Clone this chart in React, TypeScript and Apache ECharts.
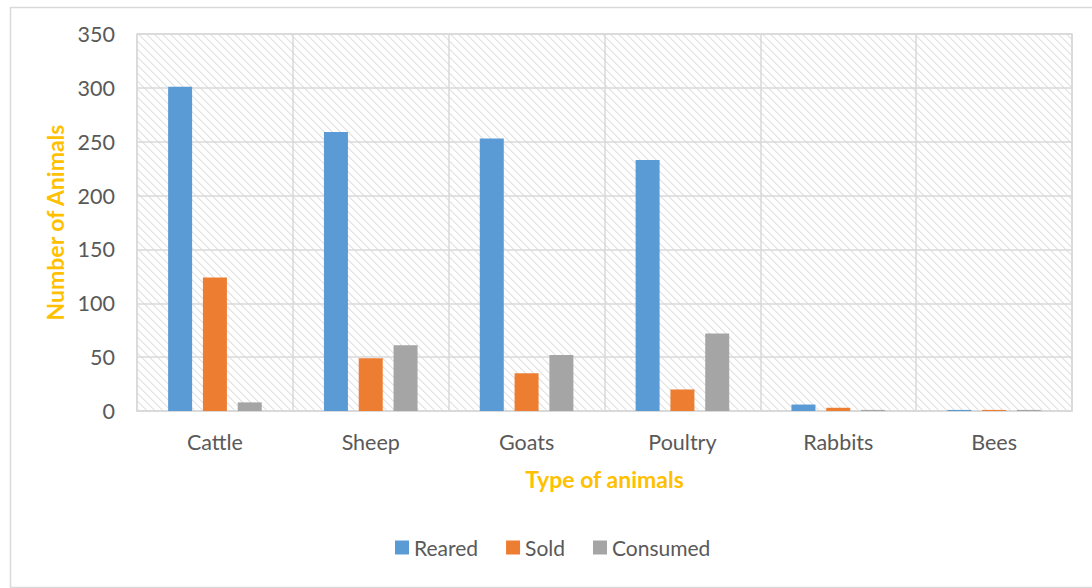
import React, { useEffect, useRef } from "react";
import * as echarts from "echarts";

const categories = ["Cattle", "Sheep", "Goats", "Poultry", "Rabbits", "Bees"];
const reared = [301, 259, 253, 233, 6, 1];
const sold = [124, 49, 35, 20, 3, 1];
const consumed = [8, 61, 52, 72, 1, 1];
const seriesNames = ["Reared", "Sold", "Consumed"];
const seriesColors = ["#5b9bd5", "#ed7d31", "#a5a5a5"];

const FONT = "Lato";
const TEXT_GREY = "#595959";
const LINE_GREY = "#d9d9d9";
const TITLE_GOLD = "#ffc000";

// Light downward-diagonal hatch used as the plot area fill
function makeHatch(): string {
  const c = document.createElement("canvas");
  c.width = 8;
  c.height = 8;
  const ctx = c.getContext("2d")!;
  ctx.fillStyle = "#ffffff";
  ctx.fillRect(0, 0, 8, 8);
  for (let y = 0; y < 8; y++) {
    ctx.fillStyle = "#e2e2e2";
    ctx.fillRect(y % 8, y, 1, 1);
    ctx.fillStyle = "#eeeeee";
    ctx.fillRect((y + 1) % 8, y, 1, 1);
  }
  return c.toDataURL();
}

export default function App() {
  const ref = useRef<HTMLDivElement>(null);

  useEffect(() => {
    if (!ref.current) return;
    const chart = echarts.init(ref.current, undefined, { renderer: "svg" });
    const hatch = makeHatch();
    const values = [reared, sold, consumed];

    chart.setOption({
      animation: false,
      backgroundColor: "#ffffff",
      textStyle: { fontFamily: FONT },
      graphic: [
        {
          type: "rect",
          left: 8,
          top: 5,
          shape: { width: 1100, height: 580 },
          style: { fill: "none", stroke: LINE_GREY, lineWidth: 1.5 },
          silent: true,
          z: -10,
        },
      ],
      grid: {
        left: 137,
        top: 34,
        right: 20,
        bottom: 177,
        show: true,
        backgroundColor: { image: hatch, repeat: "repeat" },
        borderColor: LINE_GREY,
        borderWidth: 1.5,
      },
      legend: {
        data: seriesNames,
        left: 390,
        top: 532,
        itemWidth: 14,
        itemHeight: 14,
        itemGap: 28,
        icon: "rect",
        textStyle: { color: TEXT_GREY, fontSize: 21, fontFamily: FONT },
      },
      xAxis: {
        type: "category",
        data: categories,
        name: "Type of animals",
        nameLocation: "middle",
        nameGap: 56,
        nameTextStyle: {
          color: TITLE_GOLD,
          fontWeight: "bold",
          fontSize: 23,
          fontFamily: FONT,
        },
        axisLine: { lineStyle: { color: LINE_GREY, width: 1.5 } },
        axisTick: { show: false },
        axisLabel: { color: TEXT_GREY, fontSize: 21.5, margin: 20, fontFamily: FONT },
        splitLine: { show: true, lineStyle: { color: LINE_GREY, width: 1.5 } },
      },
      yAxis: {
        type: "value",
        min: 0,
        max: 350,
        interval: 50,
        name: "Number of Animals",
        nameLocation: "middle",
        nameRotate: 90,
        nameGap: 68,
        nameTextStyle: {
          color: TITLE_GOLD,
          fontWeight: "bold",
          fontSize: 23,
          fontFamily: FONT,
        },
        axisLine: { show: false },
        axisTick: { show: false },
        axisLabel: { color: TEXT_GREY, fontSize: 21.5, margin: 22, fontFamily: FONT },
        splitLine: { show: true, lineStyle: { color: LINE_GREY, width: 1.5 } },
      },
      series: seriesNames.map((name, i) => ({
        name,
        type: "bar",
        data: values[i],
        barWidth: 24,
        barGap: "45%",
        itemStyle: { color: seriesColors[i] },
      })),
    });

    return () => chart.dispose();
  }, []);

  return (
    <div
      ref={ref}
      style={{ position: "absolute", left: 0, top: 0, width: 1092, height: 588 }}
    />
  );
}
